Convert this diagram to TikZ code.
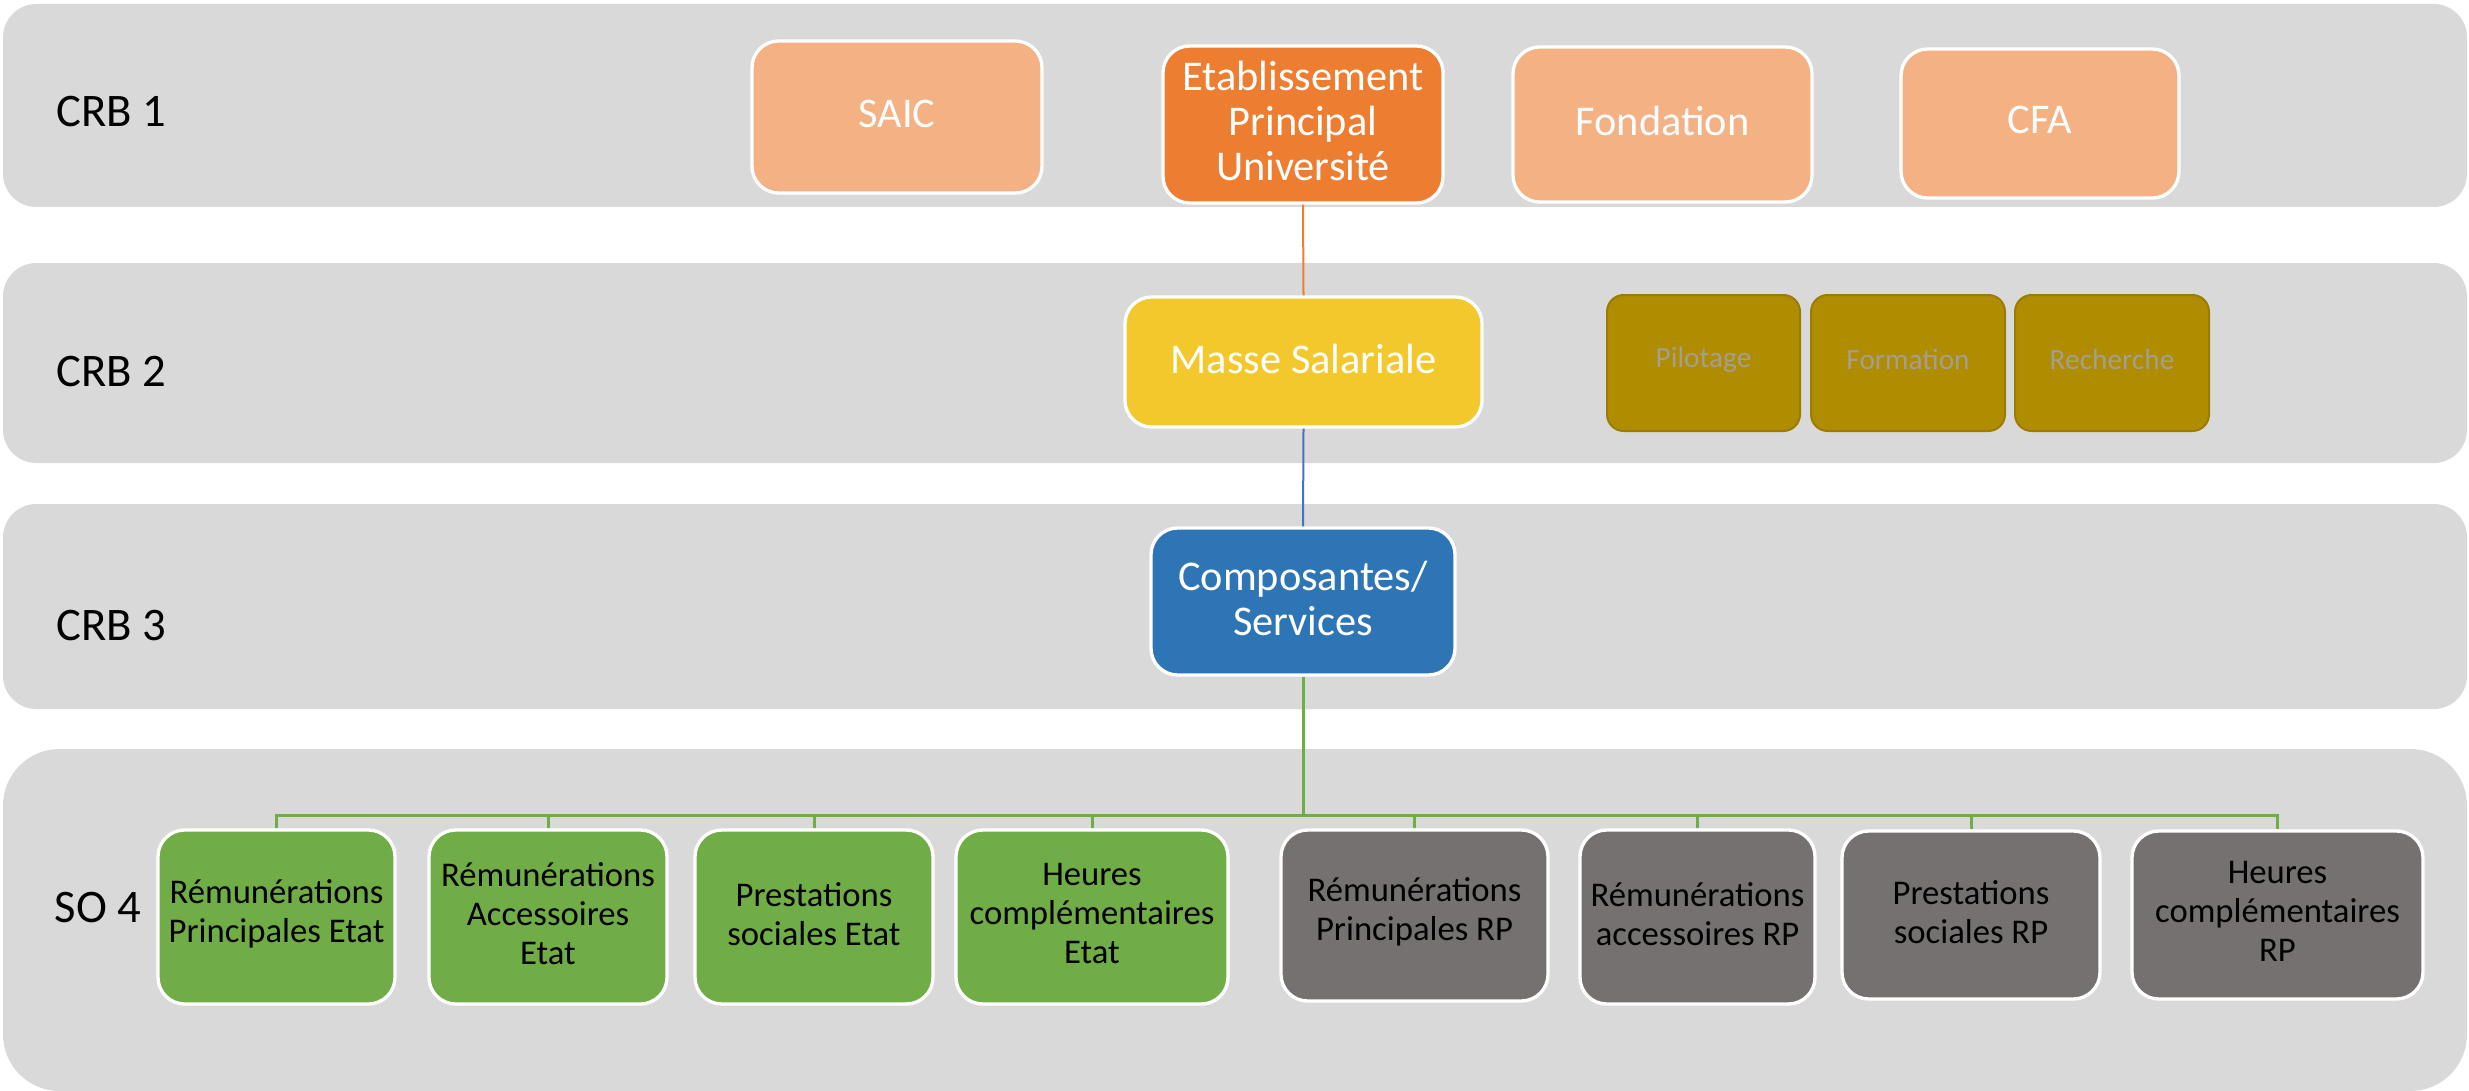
\documentclass[tikz,border=0pt]{standalone}
\usepackage{fontspec}
\setmainfont{Carlito}
\usetikzlibrary{fit}
\definecolor{bandgray}{HTML}{D9D9D9}
\definecolor{orangeA}{HTML}{ED7D31}
\definecolor{orangeL}{HTML}{F4B183}
\definecolor{goldA}{HTML}{F2C82D}
\definecolor{goldD}{HTML}{B08C00}
\definecolor{goldE}{HTML}{9C7C00}
\definecolor{blueA}{HTML}{2E75B6}
\definecolor{blueL}{HTML}{4472C4}
\definecolor{greenA}{HTML}{70AD47}
\definecolor{greyA}{HTML}{767171}
\definecolor{txtgrey}{HTML}{A39F93}
\tikzset{
  bandbox/.style={fill=bandgray, draw=none, inner sep=0pt, rounded corners=#1},
  lbl/.style={anchor=west, inner sep=0pt, font=\fontsize{14}{16}\selectfont, text=black},
  bigbox/.style={inner sep=0pt, rounded corners=8pt, draw=white, line width=1pt},
  bigtxt/.style={inner sep=0pt, align=center, text=white, font=\fontsize{12.7}{13.5}\selectfont},
  smallbox/.style={inner sep=0pt, rounded corners=5pt, fill=goldD, draw=goldE, line width=0.6pt},
  smalltxt/.style={inner sep=0pt, align=center, text=txtgrey, font=\fontsize{8.8}{10}\selectfont},
  leafbox/.style={inner sep=0pt, rounded corners=8pt, draw=white, line width=1pt},
  leaftxt/.style={inner sep=0pt, align=center, text=black, font=\fontsize{10.4}{11.7}\selectfont},
  conn/.style={line width=#1},
}
% #1 box style, #2 text style, #3 name, #4 fit points, #5 text
\newcommand\mybox[5]{%
  \node[#1, fit={#4}] (#3) {};
  \node[#2] (#3-t) at ([yshift=1pt]#3.center) {#5};
}
\begin{document}
\begin{tikzpicture}[x=0.3pt,y=-0.3pt]
\useasboundingbox (0,0) rectangle (2469,1091);
% bands
\node[bandbox=10pt, fit={(3,4) (2467,207)}] (band1) {};
\node[bandbox=10pt, fit={(3,263) (2467,463)}] (band2) {};
\node[bandbox=10pt, fit={(3,504) (2467,709)}] (band3) {};
\node[bandbox=17pt, fit={(3,749) (2467,1091)}] (band4) {};
% labels
\node[lbl] (l1) at (56,112) {CRB 1};
\node[lbl] (l2) at (56,372) {CRB 2};
\node[lbl] (l3) at (56,626) {CRB 3};
\node[lbl] (l4) at (54,908) {SO 4};
% CRB1
\mybox{bigbox, fill=orangeL}{bigtxt}{saic}{(752,41) (1042,193)}{SAIC}
\mybox{bigbox, fill=orangeA}{bigtxt}{etab}{(1163,46) (1443,203)}{Etablissement\\Principal\\Université}
\mybox{bigbox, fill=orangeL}{bigtxt}{fond}{(1513,47) (1812,202)}{Fondation}
\mybox{bigbox, fill=orangeL}{bigtxt}{cfa}{(1901,49) (2179,198)}{CFA}
% CRB2
\mybox{bigbox, fill=goldA}{bigtxt}{masse}{(1125,297) (1482,427)}{Masse Salariale}
\mybox{smallbox}{smalltxt}{pil}{(1607,295) (1800,431)}{Pilotage}
\mybox{smallbox}{smalltxt}{form}{(1811,295) (2005,431)}{Formation}
\mybox{smallbox}{smalltxt}{rech}{(2015,295) (2209,431)}{Recherche}
% CRB3
\mybox{bigbox, fill=blueA}{bigtxt}{comp}{(1151,528) (1455,675)}{Composantes/\\Services}
% SO4
\mybox{leafbox, fill=greenA}{leaftxt}{b1}{(158,830) (395,1004)}{Rémunérations\\Principales Etat}
\mybox{leafbox, fill=greenA}{leaftxt}{b2}{(429,830) (667,1004)}{Rémunérations\\Accessoires\\Etat}
\mybox{leafbox, fill=greenA}{leaftxt}{b3}{(695,830) (933,1004)}{Prestations\\sociales Etat}
\mybox{leafbox, fill=greenA}{leaftxt}{b4}{(956,830) (1228,1004)}{Heures\\complémentaires\\Etat}
\mybox{leafbox, fill=greyA}{leaftxt}{b5}{(1281,830) (1548,1001)}{Rémunérations\\Principales RP}
\mybox{leafbox, fill=greyA}{leaftxt}{b6}{(1580,830) (1815,1004)}{Rémunérations\\accessoires RP}
\mybox{leafbox, fill=greyA}{leaftxt}{b7}{(1842,831) (2100,999)}{Prestations\\sociales RP}
\mybox{leafbox, fill=greyA}{leaftxt}{b8}{(2132,831) (2423,999)}{Heures\\complémentaires\\RP}
% connectors
\draw[conn=0.6pt, orangeA] (etab.south) -- (masse.north);
\draw[conn=0.6pt, blueL] (masse.south) -- (comp.north);
\coordinate (bus) at (1303,815);
\draw[conn=0.9pt, greenA] (comp.south) -- (bus);
\foreach \b in {b1,b2,b3,b4,b5,b6,b7,b8}{
  \draw[conn=0.9pt, greenA] (bus) -| (\b.north);
}
\end{tikzpicture}
\end{document}
